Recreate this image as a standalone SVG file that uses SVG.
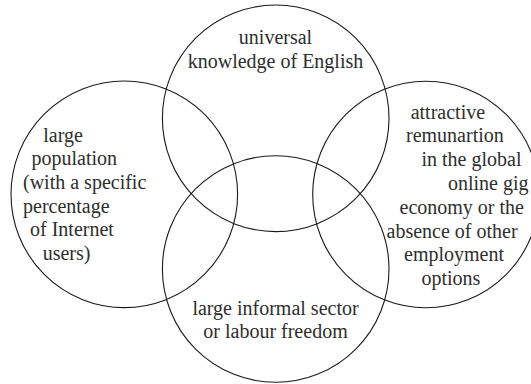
<svg xmlns="http://www.w3.org/2000/svg" width="531" height="384" viewBox="0 0 531 384">
  <style>
    .ring { fill: none; stroke: #1a1a1a; stroke-width: 1.1; }
    .label { font-family: "Liberation Serif", "DejaVu Serif", serif; font-size: 20px; fill: #2e2e2e; }
    .mid { text-anchor: middle; }
  </style>
  <rect width="531" height="384" fill="#ffffff"/>

  <g id="english">
    <circle class="ring" cx="275.7" cy="118.3" r="113.3"/>
    <text class="label mid" x="275.5" y="43.5">universal</text>
    <text class="label mid" x="275.5" y="67.8">knowledge of English</text>
  </g>

  <g id="population">
    <circle class="ring" cx="124.3" cy="194.3" r="113.3"/>
    <text class="label" x="43.3" y="141.6">large</text>
    <text class="label" x="31.5" y="165">population</text>
    <text class="label" x="23" y="188.8">(with a specific</text>
    <text class="label" x="23" y="212.6">percentage</text>
    <text class="label" x="30" y="236.4">of Internet</text>
    <text class="label" x="42.7" y="260.2">users)</text>
  </g>

  <g id="remuneration">
    <circle class="ring" cx="426" cy="194.5" r="113.3"/>
    <text class="label" x="410.7" y="118.5">attractive</text>
    <text class="label" x="406" y="142.3">remunartion</text>
    <text class="label" x="421.5" y="166.2">in the global</text>
    <text class="label" x="448" y="190">online gig</text>
    <text class="label" x="399.5" y="213.8">economy or the</text>
    <text class="label" x="386.5" y="237.6">absence of other</text>
    <text class="label" x="404" y="261.4">employment</text>
    <text class="label" x="421.5" y="285.2">options</text>
  </g>

  <g id="informal-sector">
    <circle class="ring" cx="275.7" cy="269" r="113.3"/>
    <text class="label mid" x="275.5" y="315">large informal sector</text>
    <text class="label mid" x="275.5" y="338.3">or labour freedom</text>
  </g>
</svg>
